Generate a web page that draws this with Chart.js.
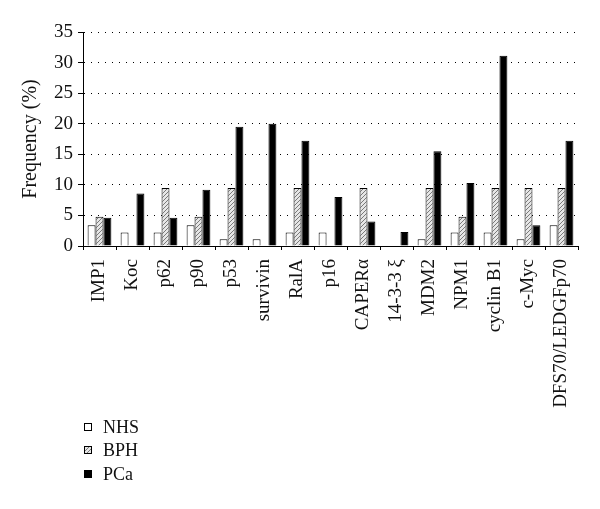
<!DOCTYPE html>
<html>
<head>
<meta charset="utf-8">
<script src="https://cdn.jsdelivr.net/npm/chart.js@4"></script>
<style>
  html, body { margin: 0; padding: 0; background: #fff; }
  #wrap { width: 600px; height: 509px; }
</style>
</head>
<body>
<div id="wrap"><canvas id="freqChart" width="600" height="509"></canvas></div>
<script>
const markers = ['IMP1', 'Koc', 'p62', 'p90', 'p53', 'survivin', 'RalA', 'p16', 'CAPERα', '14-3-3 ξ', 'MDM2', 'NPM1', 'cyclin B1', 'c-Myc', 'DFS70/LEDGFp70'];
const nhs = [3.4, 2.2, 2.2, 3.4, 1.1, 1.1, 2.2, 2.2, 0, 0, 1.1, 2.2, 2.2, 1.1, 3.4];
const bph = [4.8, 0, 9.5, 4.8, 9.5, 0, 9.5, 0, 9.5, 0, 9.5, 4.8, 9.5, 9.5, 9.5];
const pca = [4.6, 8.6, 4.6, 9.2, 19.5, 20.0, 17.2, 8.0, 4.0, 2.3, 15.5, 10.3, 31.1, 3.4, 17.2];
const yTicks = [0, 5, 10, 15, 20, 25, 30, 35];

const serif = "'Liberation Serif', 'DejaVu Serif', serif";

function hatch() {
    const c = document.createElement('canvas');
    c.width = 4; c.height = 4;
    const g = c.getContext('2d');
    g.fillStyle = '#e6e6e6';
    g.fillRect(0, 0, 4, 4);
    g.strokeStyle = '#7a7a7a';
    g.lineWidth = 1;
    g.beginPath();
    g.moveTo(0, 4); g.lineTo(4, 0);
    g.moveTo(-1, 1); g.lineTo(1, -1);
    g.moveTo(3, 5); g.lineTo(5, 3);
    g.stroke();
    return g.createPattern(c, 'repeat');
}

// legend stacked in a column under the labels
const sideLegend = {
    id: 'sideLegend',
    afterDraw(chart) {
        const ctx = chart.ctx;
        const rows = [427, 450, 474];
        ctx.save();
        chart.data.datasets.forEach((ds, i) => {
            const y = rows[i];
            ctx.fillStyle = ds.backgroundColor;
            ctx.fillRect(84, y - 4, 8, 8);
            ctx.strokeStyle = '#000';
            ctx.lineWidth = 1;
            ctx.strokeRect(84.5, y - 3.5, 7, 7);
            ctx.fillStyle = '#111';
            ctx.font = '18px ' + serif;
            ctx.textBaseline = 'middle';
            ctx.fillText(ds.label, 103, y + 1);
        });
        ctx.restore();
    }
};

const ctx = document.getElementById('freqChart').getContext('2d');
new Chart(ctx, {
    type: 'bar',
    data: {
        labels: markers,
        datasets: [
            { label: 'NHS', data: nhs, backgroundColor: '#ffffff', borderColor: '#000', borderWidth: 1 },
            { label: 'BPH', data: bph, backgroundColor: hatch(), borderColor: '#000', borderWidth: 1 },
            { label: 'PCa', data: pca, backgroundColor: '#000000', borderColor: '#000', borderWidth: 1 }
        ]
    },
    options: {
        responsive: false,
        animation: false,
        datasets: { bar: { categoryPercentage: 0.72, barPercentage: 1.0 } },
        layout: { padding: { top: 32, right: 22, left: 0, bottom: 0 } },
        plugins: { legend: { display: false }, tooltip: { enabled: false } },
        scales: {
            x: {
                afterFit: (s) => { s.height = 263; },
                grid: { offset: true, drawOnChartArea: false, drawTicks: true, tickLength: 4, color: '#000' },
                border: { color: '#000', width: 1 },
                ticks: {
                    autoSkip: false, minRotation: 90, maxRotation: 90, padding: 9,
                    color: '#111', font: { family: serif, size: 19 }
                }
            },
            y: {
                min: 0, max: 35,
                afterFit: (s) => { s.width = 83; },
                afterBuildTicks: (s) => { s.ticks = yTicks.map(v => ({ value: v })); },
                grid: { color: '#000', lineWidth: 1, tickLength: 5, tickBorderDash: [] },
                border: { color: '#000', width: 1, dash: [1, 6] },
                ticks: { padding: 5, color: '#111', font: { family: serif, size: 19 } },
                title: {
                    display: true, text: 'Frequency (%)', color: '#111',
                    font: { family: serif, size: 20 }, padding: { top: 19, bottom: 0 }
                }
            }
        }
    },
    plugins: [sideLegend]
});
</script>
</body>
</html>
